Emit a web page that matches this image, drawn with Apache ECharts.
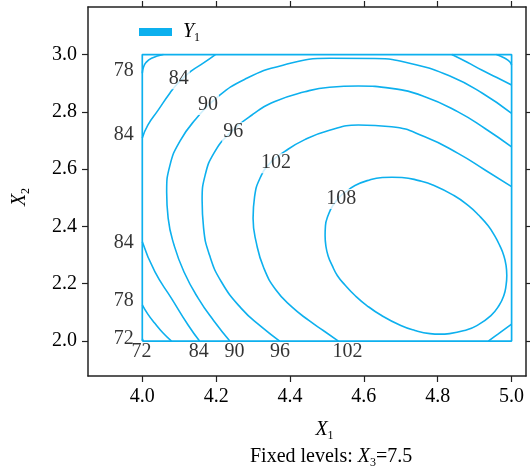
<!DOCTYPE html>
<html>
<head>
<meta charset="utf-8">
<script src="https://cdn.jsdelivr.net/npm/echarts@6/dist/echarts.min.js"></script>
<style>
  html, body { margin: 0; padding: 0; background: #fff; }
  #main { width: 530px; height: 471px; }
</style>
</head>
<body>
<div id="main"></div>
<script>
const chartDom = document.getElementById('main');
const myChart = echarts.init(chartDom);

// ticks and experimental region
const x1Ticks = [4.0, 4.2, 4.4, 4.6, 4.8, 5.0];
const x2Ticks = [2.0, 2.2, 2.4, 2.6, 2.8, 3.0];
const x1Range = [4.0, 5.0];
const x2Range = [2.0, 3.0];

// contour lines of Y1 as [X1, X2]
const c72 = [[4.0, 2.008], [4.003, 2.0]];
const c78a = [[4.0, 2.935], [4.003, 2.955], [4.01, 2.972], [4.025, 2.987], [4.057, 3.0]];
const c78b = [[4.0, 2.126], [4.015, 2.094], [4.034, 2.062], [4.055, 2.03], [4.079, 2.0]];
const c78c = [[4.959, 3.0], [4.982, 2.987], [4.995, 2.975], [5.0, 2.963]];
const c84a = [[4.198, 3.0], [4.165, 2.97], [4.132, 2.942], [4.1, 2.905], [4.075, 2.866],
  [4.043, 2.806], [4.015, 2.754], [4.0, 2.709]];
const c84b = [[4.0, 2.347], [4.034, 2.242], [4.079, 2.149], [4.124, 2.056], [4.155, 2.0]];
const c84c = [[4.838, 3.0], [4.88, 2.973], [4.919, 2.946], [4.96, 2.92], [5.0, 2.894]];
const c90 = [[4.237, 2.0], [4.194, 2.07], [4.152, 2.148], [4.113, 2.241], [4.086, 2.335],
  [4.07, 2.429], [4.066, 2.52], [4.075, 2.614], [4.102, 2.698], [4.145, 2.775],
  [4.2, 2.848], [4.278, 2.914], [4.381, 2.963], [4.508, 2.987], [4.63, 2.986],
  [4.738, 2.965], [4.833, 2.925], [4.92, 2.866], [5.0, 2.795]];
const c96 = [[4.372, 2.0], [4.322, 2.05], [4.268, 2.114], [4.214, 2.207], [4.182, 2.3],
  [4.166, 2.394], [4.162, 2.492], [4.171, 2.583], [4.194, 2.656], [4.232, 2.719],
  [4.297, 2.789], [4.359, 2.836], [4.44, 2.87], [4.507, 2.886], [4.585, 2.89],
  [4.675, 2.882], [4.765, 2.853], [4.855, 2.8], [4.928, 2.742], [5.0, 2.678]];
const c102a = [[4.531, 2.0], [4.492, 2.035], [4.451, 2.072], [4.405, 2.119], [4.362, 2.178],
  [4.329, 2.255], [4.309, 2.342], [4.3, 2.429], [4.304, 2.503], [4.319, 2.569],
  [4.346, 2.621], [4.385, 2.661], [4.44, 2.703], [4.507, 2.736], [4.585, 2.754],
  [4.675, 2.748], [4.765, 2.713], [4.855, 2.655], [4.928, 2.597], [5.0, 2.539]];
const c102b = [[4.937, 2.0], [4.963, 2.024], [5.0, 2.059]];
const c108 = [[4.556, 2.525], [4.576, 2.543], [4.609, 2.56], [4.65, 2.571], [4.676, 2.572],
  [4.703, 2.571], [4.749, 2.56], [4.79, 2.543], [4.844, 2.508], [4.883, 2.473],
  [4.912, 2.438], [4.936, 2.403], [4.954, 2.368], [4.968, 2.333], [4.979, 2.298],
  [4.985, 2.264], [4.987, 2.229], [4.985, 2.194], [4.979, 2.159], [4.966, 2.124],
  [4.944, 2.089], [4.906, 2.054], [4.873, 2.037], [4.832, 2.026], [4.806, 2.024],
  [4.779, 2.026], [4.738, 2.037], [4.7, 2.054], [4.648, 2.089], [4.608, 2.124],
  [4.576, 2.159], [4.55, 2.194], [4.528, 2.229], [4.514, 2.264], [4.503, 2.298],
  [4.497, 2.333], [4.495, 2.368], [4.496, 2.403], [4.503, 2.438], [4.516, 2.473],
  [4.538, 2.508], [4.556, 2.525]];

// contour labels: [level, X2] on the left edge, [level, X1] under the bottom edge
const leftLabels = [[78, 2.942], [84, 2.719], [84, 2.342], [78, 2.14], [72, 2.009]];
const bottomLabels = [[72, 3.998], [84, 4.153], [90, 4.25], [96, 4.373], [102, 4.556]];
// [level, X1, X2] inside the region
const innerLabels = [[84, 4.099, 2.914], [90, 4.178, 2.824], [96, 4.246, 2.729],
  [102, 4.362, 2.621], [108, 4.539, 2.496]];

const contours = [c72, c78a, c78b, c78c, c84a, c84b, c84c, c90, c96, c102a, c102b, c108];

const LINE = '#0db0ee';
const INK = '#000';
const FONT = 'Liberation Serif';

const subRich = {
  i: { fontFamily: FONT, fontSize: 20, fontStyle: 'italic', fontWeight: 'normal', color: INK, lineHeight: 24 },
  s: { fontFamily: FONT, fontSize: 12, fontWeight: 'normal', color: INK, lineHeight: 14, verticalAlign: 'bottom' },
  n: { fontFamily: FONT, fontSize: 20, fontWeight: 'normal', color: INK, lineHeight: 24 }
};

const axisLine = { show: true, onZero: false, lineStyle: { color: '#222', width: 1.5 } };

function tickAxis(ticks, shown) {
  return {
    axisLine: axisLine,
    axisTick: { show: true, inside: false, length: 6, customValues: ticks,
      lineStyle: { color: '#222', width: 1.2 } },
    axisLabel: { show: shown, customValues: ticks, margin: 11,
      formatter: v => v.toFixed(1),
      fontFamily: FONT, fontSize: 20, color: INK },
    splitLine: { show: false }
  };
}

const series = contours.map(pts => ({
  type: 'line',
  name: 'Y1',
  data: pts,
  smooth: 0.5,
  showSymbol: false,
  itemStyle: { color: LINE },
  lineStyle: { color: LINE, width: 1.6 },
  z: 2
}));

// border of the experimental region
series.push({
  type: 'line',
  name: 'Y1',
  data: [[x1Range[0], x2Range[0]], [x1Range[1], x2Range[0]], [x1Range[1], x2Range[1]],
    [x1Range[0], x2Range[1]], [x1Range[0], x2Range[0]]],
  showSymbol: false,
  itemStyle: { color: LINE },
  lineStyle: { color: LINE, width: 1.7 },
  z: 2
});

const labelStyle = {
  show: true,
  position: 'inside',
  formatter: p => String(p.value[2]),
  fontFamily: FONT,
  fontSize: 20,
  color: INK
};

series.push({
  type: 'scatter',
  symbolSize: 0,
  silent: true,
  clip: false,
  z: 5,
  label: Object.assign({}, labelStyle, { backgroundColor: '#fff', padding: [0, 1] }),
  data: innerLabels.map(d => [d[1], d[2], d[0]])
});
series.push({
  type: 'scatter',
  symbolSize: 0,
  silent: true,
  clip: false,
  z: 5,
  label: labelStyle,
  data: leftLabels.map(d => [3.95, d[1], d[0]])
    .concat(bottomLabels.map(d => [d[1], 1.963, d[0]]))
});

const option = {
  animation: false,
  backgroundColor: '#fff',
  grid: { left: 88, right: 4, top: 7, bottom: 95, containLabel: false },
  title: {
    text: '{n|Fixed levels: }{i|X}{s|3}{n|=7.5}',
    left: 250,
    top: 445,
    padding: 0,
    textStyle: { fontWeight: 'normal', rich: subRich }
  },
  legend: {
    data: [{ name: 'Y1' }],
    left: 139,
    top: 22,
    padding: 0,
    icon: 'rect',
    itemWidth: 33,
    itemHeight: 8,
    itemStyle: { color: LINE },
    formatter: () => '{i|Y}{s|1}',
    textStyle: { rich: { i: Object.assign({}, subRich.i, { padding: [0, 0, 0, 6] }), s: subRich.s } }
  },
  xAxis: [
    Object.assign({
      type: 'value', position: 'bottom', min: 3.853, max: 5.039,
      name: '{i|X}{s|1}', nameLocation: 'middle', nameGap: 42,
      nameTextStyle: { padding: [0, 0, 0, 35], rich: subRich }
    }, tickAxis(x1Ticks, true)),
    Object.assign({ type: 'value', position: 'top', min: 3.853, max: 5.039 }, tickAxis(x1Ticks, false))
  ],
  yAxis: [
    Object.assign({
      type: 'value', position: 'left', min: 1.878, max: 3.166,
      name: '{i|X}{s|2}', nameLocation: 'middle', nameGap: 56, nameRotate: 90,
      nameTextStyle: { padding: [0, 11, 0, 0], rich: subRich }
    }, tickAxis(x2Ticks, true)),
    Object.assign({ type: 'value', position: 'right', min: 1.878, max: 3.166 }, tickAxis(x2Ticks, false))
  ],
  series: series
};

myChart.setOption(option);
</script>
</body>
</html>
